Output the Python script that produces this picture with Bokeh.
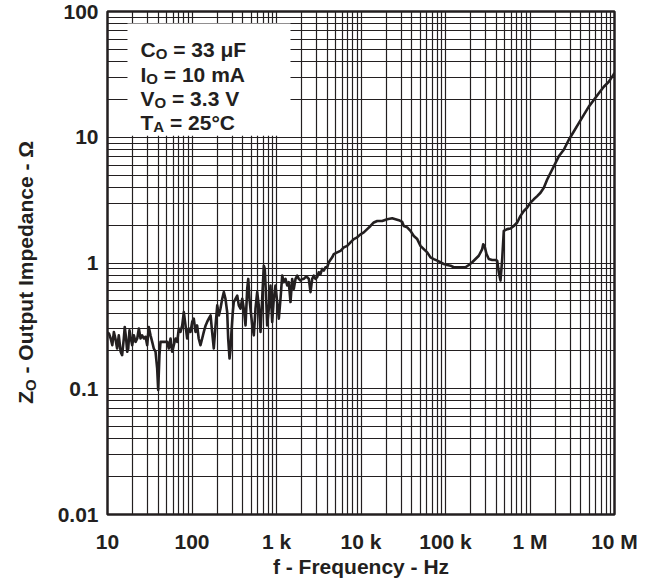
import numpy as np
from bokeh.plotting import figure
from bokeh.layouts import row
from bokeh.models import Range1d, FixedTicker, BoxAnnotation, Label
from bokeh.core.properties import value
from bokeh.embed import file_html
from bokeh.resources import INLINE

# ---------------- data ----------------
freq_hz = [
    10, 10.4, 10.9, 11.4, 11.9, 12.4, 13.0, 13.6, 14.3, 14.9, 15.6, 16.0, 16.6, 17.1, 17.6,
    18.2, 18.9, 19.6, 20.5, 21.5, 22.5, 23.5, 24.6, 25.7, 26.9, 28.2, 29.5, 30.8, 32.3, 33.8,
    35.3, 37.0, 38.7, 39.8, 41.2, 42.4, 46.4, 50.9, 53.1, 55.7, 58.3, 60.9, 63.8, 66.8, 69.8,
    73.1, 76.6, 80.0, 83.8, 87.7, 91.7, 96.0, 100.5, 105, 110, 115, 120, 126, 132, 138,
    145, 151, 158, 166, 173, 181, 190, 199,
    208, 217, 228, 238, 249, 261, 268, 278, 286, 293, 304, 312, 327, 343, 358, 375, 393, 410,
    430, 450, 463, 479, 497, 516, 539, 564, 591, 617, 647, 677, 708, 727, 755, 776, 811, 849,
    889, 929, 973, 1019, 1065, 1115, 1168, 1220, 1278, 1339, 1398, 1464, 1534, 1602, 1679,
    1758, 1836, 1923, 2014, 2104, 2204, 2308, 2412, 2526, 2646, 2763, 2894, 3031, 3167, 3317,
    3474, 3629, 3801, 3981, 4158, 4562, 4766,
    5227, 5720, 6258, 6866, 7511, 8218, 9016, 9865, 10790, 11840, 12950, 14170, 15550, 17820,
    20430, 23400, 25600, 28020, 30730, 32100, 35220, 38530, 42160, 46270, 50600, 55370, 60730,
    66450, 72700, 79780, 87270, 95480, 104700, 114600, 125400, 150500, 172500, 188700, 207000,
    226500, 247800, 271900, 279400, 289400, 305700, 325400, 357000, 390700, 409100, 427300,
    447600, 468800, 489700, 537300, 587800, 643200, 705600, 772000, 844500, 926600,
    1014000, 1109000, 1217000, 1331000, 1457000, 1598000,
    2192000, 2512000, 2879000, 3299000, 3780000, 4331000, 4964000, 5689000, 6520000, 7471000,
    8561000, 9652000, 10000000,
]
z_ohm = [
    0.28, 0.275, 0.251, 0.222, 0.283, 0.251, 0.209, 0.266, 0.197, 0.185, 0.251, 0.310, 0.251, 0.197, 0.209,
    0.292, 0.251, 0.222, 0.266, 0.236, 0.251, 0.301, 0.251, 0.266, 0.251, 0.259, 0.222, 0.310, 0.266, 0.236,
    0.209, 0.197, 0.145, 0.098, 0.185, 0.236, 0.236, 0.236, 0.209, 0.251, 0.197, 0.222, 0.251, 0.236, 0.301,
    0.283, 0.319, 0.407, 0.319, 0.251, 0.301, 0.283, 0.340, 0.361, 0.283, 0.319, 0.251, 0.222, 0.251, 0.283,
    0.319, 0.340, 0.361, 0.383, 0.283, 0.209, 0.319, 0.460,
    0.383, 0.433, 0.519, 0.587, 0.519, 0.407, 0.251, 0.174, 0.209, 0.283, 0.407, 0.489, 0.519, 0.551, 0.460, 0.433, 0.519, 0.433,
    0.319, 0.623, 0.747, 0.519, 0.407, 0.319, 0.266, 0.433, 0.587, 0.460, 0.283, 0.519, 0.952, 0.897, 0.519, 0.319, 0.433, 0.662,
    0.340, 0.519, 0.662, 0.489, 0.361, 0.519, 0.794, 0.704, 0.747, 0.662, 0.704, 0.489, 0.747, 0.623, 0.747,
    0.794, 0.747, 0.725, 0.747, 0.747, 0.771, 0.771, 0.747, 0.587, 0.747, 0.794, 0.747, 0.771, 0.844, 0.818,
    0.897, 0.869, 0.925, 0.925, 1.013, 1.109, 1.178,
    1.215, 1.25, 1.33, 1.37, 1.46, 1.55, 1.60, 1.69, 1.75, 1.86, 1.97, 2.10, 2.16, 2.16,
    2.23, 2.27, 2.23, 2.19, 2.12, 1.97, 1.92, 1.80, 1.64, 1.55, 1.37, 1.29, 1.215,
    1.109, 1.075, 1.043, 1.013, 0.982, 0.964, 0.952, 0.925, 0.925, 0.925, 0.964, 1.013,
    1.075, 1.142, 1.29, 1.41, 1.37, 1.178, 1.075, 1.056, 1.056, 1.043, 0.844,
    0.725, 1.075, 1.80, 1.86, 1.88, 1.97, 2.10, 2.37, 2.59, 2.76,
    3.02, 3.21, 3.40, 3.62, 3.97, 4.61,
    7.05, 7.96, 9.55, 11.1, 12.95, 15.06, 17.52, 19.79, 22.36, 25.21,
    27.61, 31.2, 32.4,
]

x_ticks = [10, 100, 1e3, 1e4, 1e5, 1e6, 1e7]
x_tick_labels = ["10", "100", "1 k", "10 k", "100 k", "1 M", "10 M"]
y_ticks = [0.01, 0.1, 1, 10, 100]
y_tick_labels = ["0.01", "0.1", "1", "10", "100"]

cond_main = ["C", "I", "V", "T"]
cond_sub = ["O", "O", "O", "A"]
cond_rest = [" = 33 \u03bcF", " = 10 mA", " = 3.3 V", " = 25\u00b0C"]

x_title = "f - Frequency - Hz"
y_title_main, y_title_sub, y_title_rest = "Z", "O", " - Output Impedance - \u03a9"

# ---------------- layout ----------------
W, H = 646, 580
YW = 54                      # strip holding the vertical title
FL, FT = 107, 11             # frame left / top in picture px
FRAME_W, FRAME_H = 507, 506
PW = W - YW
B_LEFT = FL - YW
B_TOP = FT
B_RIGHT = PW - B_LEFT - FRAME_W
B_BOTTOM = H - FT - FRAME_H
XDEC = np.log10(x_ticks[-1]) - np.log10(x_ticks[0])
YDEC = np.log10(y_ticks[-1]) - np.log10(y_ticks[0])


def dx(px):
    return 10 ** (np.log10(x_ticks[0]) + (px - FL) / (FRAME_W / XDEC))


def dy(py):
    return 10 ** (np.log10(y_ticks[-1]) - (py - FT) / (FRAME_H / YDEC))


FONT = "Liberation Sans"
INK = "#231f20"
TICK_PX = 21
LEG_PX, LEG_SUB_PX = 21, 15
TITLE_PX, TITLE_SUB_PX = 21, 15
SPACE = 0.278
ADV = {"C": 0.722, "I": 0.278, "V": 0.667, "T": 0.611, "Z": 0.611, "O": 0.778, "A": 0.722}

p = figure(width=PW, height=H, x_axis_type="log", y_axis_type="log",
           x_range=Range1d(x_ticks[0], x_ticks[-1]), y_range=Range1d(y_ticks[0], y_ticks[-1]),
           output_backend="svg", toolbar_location=None,
           min_border_left=B_LEFT, min_border_right=B_RIGHT,
           min_border_top=B_TOP, min_border_bottom=B_BOTTOM)
p.background_fill_color = "white"
p.border_fill_color = "white"
p.outline_line_color = INK
p.outline_line_width = 2.5

x_minor = [m * t for t in x_ticks[:-1] for m in range(2, 10)]
y_minor = [m * t for t in y_ticks[:-1] for m in range(2, 10)]
p.xaxis.ticker = FixedTicker(ticks=x_ticks, minor_ticks=x_minor)
p.yaxis.ticker = FixedTicker(ticks=y_ticks, minor_ticks=y_minor)
p.xaxis.major_label_overrides = {float(t): s for t, s in zip(x_ticks, x_tick_labels)}
p.yaxis.major_label_overrides = {float(t): s for t, s in zip(y_ticks, y_tick_labels)}

for ax in (p.xaxis[0], p.yaxis[0]):
    ax.axis_line_color = None
    ax.major_tick_line_color = None
    ax.minor_tick_line_color = None
    ax.major_tick_out = 0
    ax.major_tick_in = 0
    ax.minor_tick_out = 0
    ax.minor_tick_in = 0
    ax.major_label_text_font = FONT
    ax.major_label_text_font_style = "bold"
    ax.major_label_text_font_size = f"{TICK_PX}px"
    ax.major_label_text_color = INK
p.xaxis.major_label_standoff = 15
p.yaxis.major_label_standoff = 9

p.xaxis.axis_label = x_title
p.xaxis.axis_label_text_font = FONT
p.xaxis.axis_label_text_font_style = "bold"
p.xaxis.axis_label_text_font_size = f"{TITLE_PX}px"
p.xaxis.axis_label_text_color = INK
p.xaxis.axis_label_standoff = -1

for g in (p.xgrid[0], p.ygrid[0]):
    g.grid_line_color = INK
    g.grid_line_width = 1.2
    g.minor_grid_line_color = INK
    g.minor_grid_line_width = 1.2

p.line(freq_hz, z_ohm, line_color=INK, line_width=2.6, line_join="round")

# conditions box
p.add_layout(BoxAnnotation(left=dx(127), right=dx(290), top=dy(23), bottom=dy(136),
                           fill_color="white", fill_alpha=1.0, line_color=None))
TX = 140
for i, (m, s, r) in enumerate(zip(cond_main, cond_sub, cond_rest)):
    base = 49.3 + 24.6 * i
    w_m = ADV[m] * LEG_PX
    w_s = ADV[s] * LEG_SUB_PX
    lead = (len(r) - len(r.lstrip(" "))) * SPACE * LEG_PX
    common = dict(text_font=FONT, text_font_style="bold", text_color=INK,
                  text_baseline="alphabetic", text_align="left")
    p.add_layout(Label(x=dx(TX), y=dy(base), text=m, text_font_size=f"{LEG_PX}px", **common))
    p.add_layout(Label(x=dx(TX), y=dy(base + 4), x_offset=w_m, text=s,
                       text_font_size=f"{LEG_SUB_PX}px", **common))
    p.add_layout(Label(x=dx(TX), y=dy(base), x_offset=w_m + w_s + lead, text=r.lstrip(" "),
                       text_font_size=f"{LEG_PX}px", **common))

# ---------------- vertical title strip ----------------
# same top/bottom borders as the main plot, so its frame lines up with the main frame;
# data units = picture px (y counted upward from the bottom of the picture)
yt = figure(width=YW, height=H, x_range=Range1d(0, YW),
            y_range=Range1d(H - FT - FRAME_H, H - FT),
            output_backend="svg", toolbar_location=None, title=None,
            x_axis_location=None, y_axis_location=None,
            min_border_left=0, min_border_right=0,
            min_border_top=B_TOP, min_border_bottom=B_BOTTOM)
yt.outline_line_color = None
yt.background_fill_color = "white"
yt.border_fill_color = "white"
yt.xgrid.visible = False
yt.ygrid.visible = False

YP = 381   # picture y where subscript ends and the rest of the title begins
XB = 25    # picture x of the title anchor
w_o = ADV["O"] * TITLE_SUB_PX
lead_t = (len(y_title_rest) - len(y_title_rest.lstrip(" "))) * SPACE * TITLE_PX
rot = dict(text_font=value(FONT), text_font_style="bold", text_color=INK,
           text_baseline="alphabetic", angle=np.pi / 2)
yt.text(x=[XB], y=[H - (YP + w_o)], text=[y_title_main], text_align="right",
        text_font_size=f"{TITLE_PX}px", **rot)
yt.text(x=[XB + 4.5], y=[H - YP], text=[y_title_sub], text_align="right",
        text_font_size=f"{TITLE_SUB_PX}px", **rot)
yt.text(x=[XB], y=[H - (YP - lead_t)], text=[y_title_rest.lstrip(" ")], text_align="left",
        text_font_size=f"{TITLE_PX}px", **rot)

layout = row(yt, p, spacing=0)
open("out.html", "w").write(file_html(layout, INLINE))
